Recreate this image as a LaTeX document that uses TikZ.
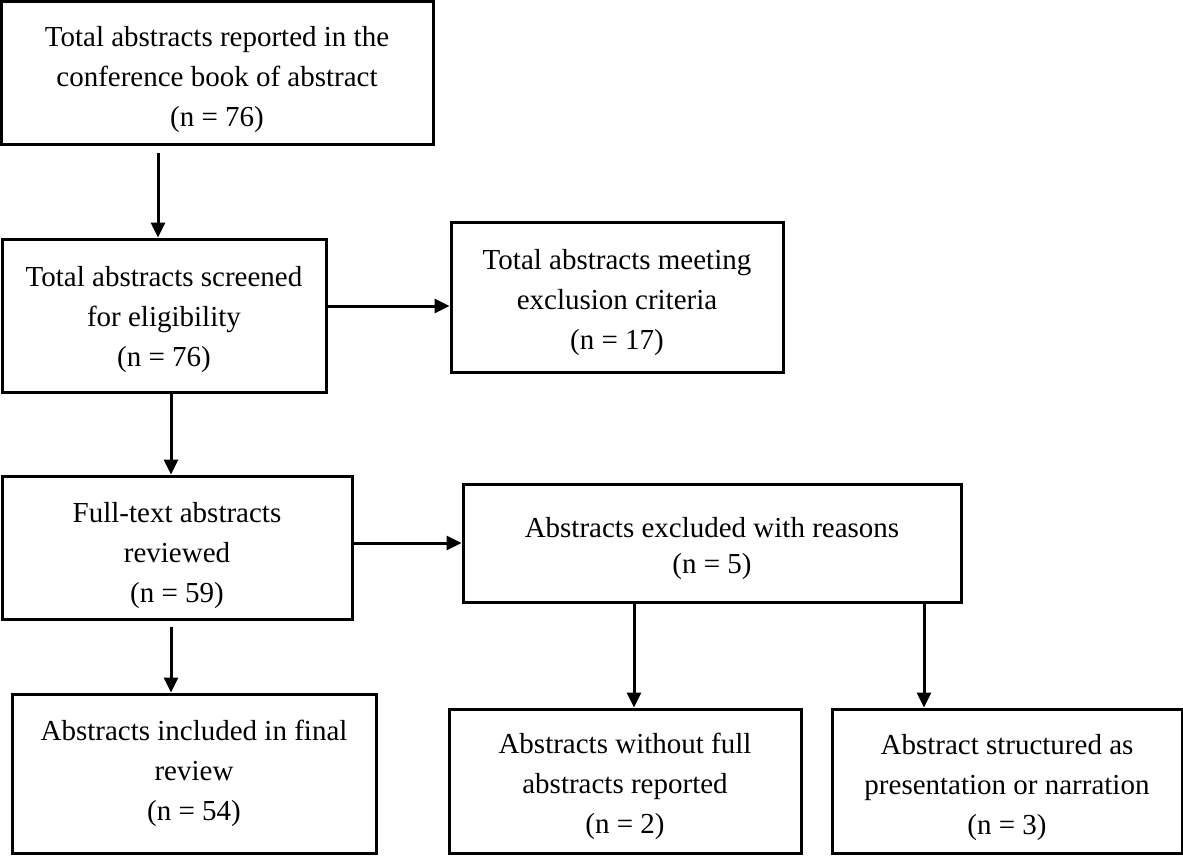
\documentclass[tikz,border=0pt]{standalone}
\usepackage{fontspec}
\setmainfont{Liberation Serif}
\usetikzlibrary{arrows.meta}
\newcommand{\dn}[1]{\rule{0pt}{#1}}
\tikzset{
  box/.style={draw=black, line width=3pt, fill=white, align=center, inner sep=0pt,
    font={\fontsize{29}{40}\selectfont}},
  arr/.style={draw=black, line width=3pt, -{Triangle[length=15pt,width=14pt]}}
}
\begin{document}
\begin{tikzpicture}[x=1pt,y=-1pt]
\useasboundingbox (0,0) rectangle (1183,855);
\node[box, minimum width=432pt, minimum height=143pt] (a) at (217,72.5)
  {\dn{35pt}Total abstracts reported in the\\conference book of abstract\\(n = 76)};
\node[box, minimum width=324pt, minimum height=153pt] (b) at (164,315.5)
  {\dn{29pt}Total abstracts screened\\for eligibility\\(n = 76)};
\node[box, minimum width=332pt, minimum height=150pt] (c) at (617,297)
  {\dn{31pt}Total abstracts meeting\\exclusion criteria\\(n = 17)};
\node[box, minimum width=350pt, minimum height=143pt] (d) at (177,547.5)
  {\dn{36pt}Full-text abstracts\\reviewed\\(n = 59)};
\node[box, minimum width=498pt, minimum height=118pt, font={\fontsize{29}{36}\selectfont}] (e) at (712,543)
  {\dn{31pt}Abstracts excluded with reasons\\(n = 5)};
\node[box, minimum width=364pt, minimum height=159pt] (f) at (194,773.5)
  {Abstracts included in final\\review\\(n = 54)};
\node[box, minimum width=352pt, minimum height=144pt] (g) at (625,781)
  {\dn{32pt}Abstracts without full\\abstracts reported\\(n = 2)};
\node[box, minimum width=350pt, minimum height=144pt] (h) at (1007,781)
  {\dn{33pt}Abstract structured as\\presentation or narration\\(n = 3)};
\coordinate (xab) at (158,0);
\coordinate (xbd) at (171,0);
\coordinate (xeg) at (634,0);
\coordinate (xeh) at (924,0);
\coordinate (ybc) at (0,306);
\coordinate (yde) at (0,543);
\draw[arr, shorten <=7pt] (a.south -| xab) -- (b.north -| xab);
\draw[arr] (b.east |- ybc) -- (c.west |- ybc);
\draw[arr] (b.south -| xbd) -- (d.north -| xbd);
\draw[arr] (d.east |- yde) -- (e.west |- yde);
\draw[arr, shorten <=6pt] (d.south -| xbd) -- (f.north -| xbd);
\draw[arr] (e.south -| xeg) -- (g.north -| xeg);
\draw[arr] (e.south -| xeh) -- (h.north -| xeh);
\end{tikzpicture}
\end{document}
